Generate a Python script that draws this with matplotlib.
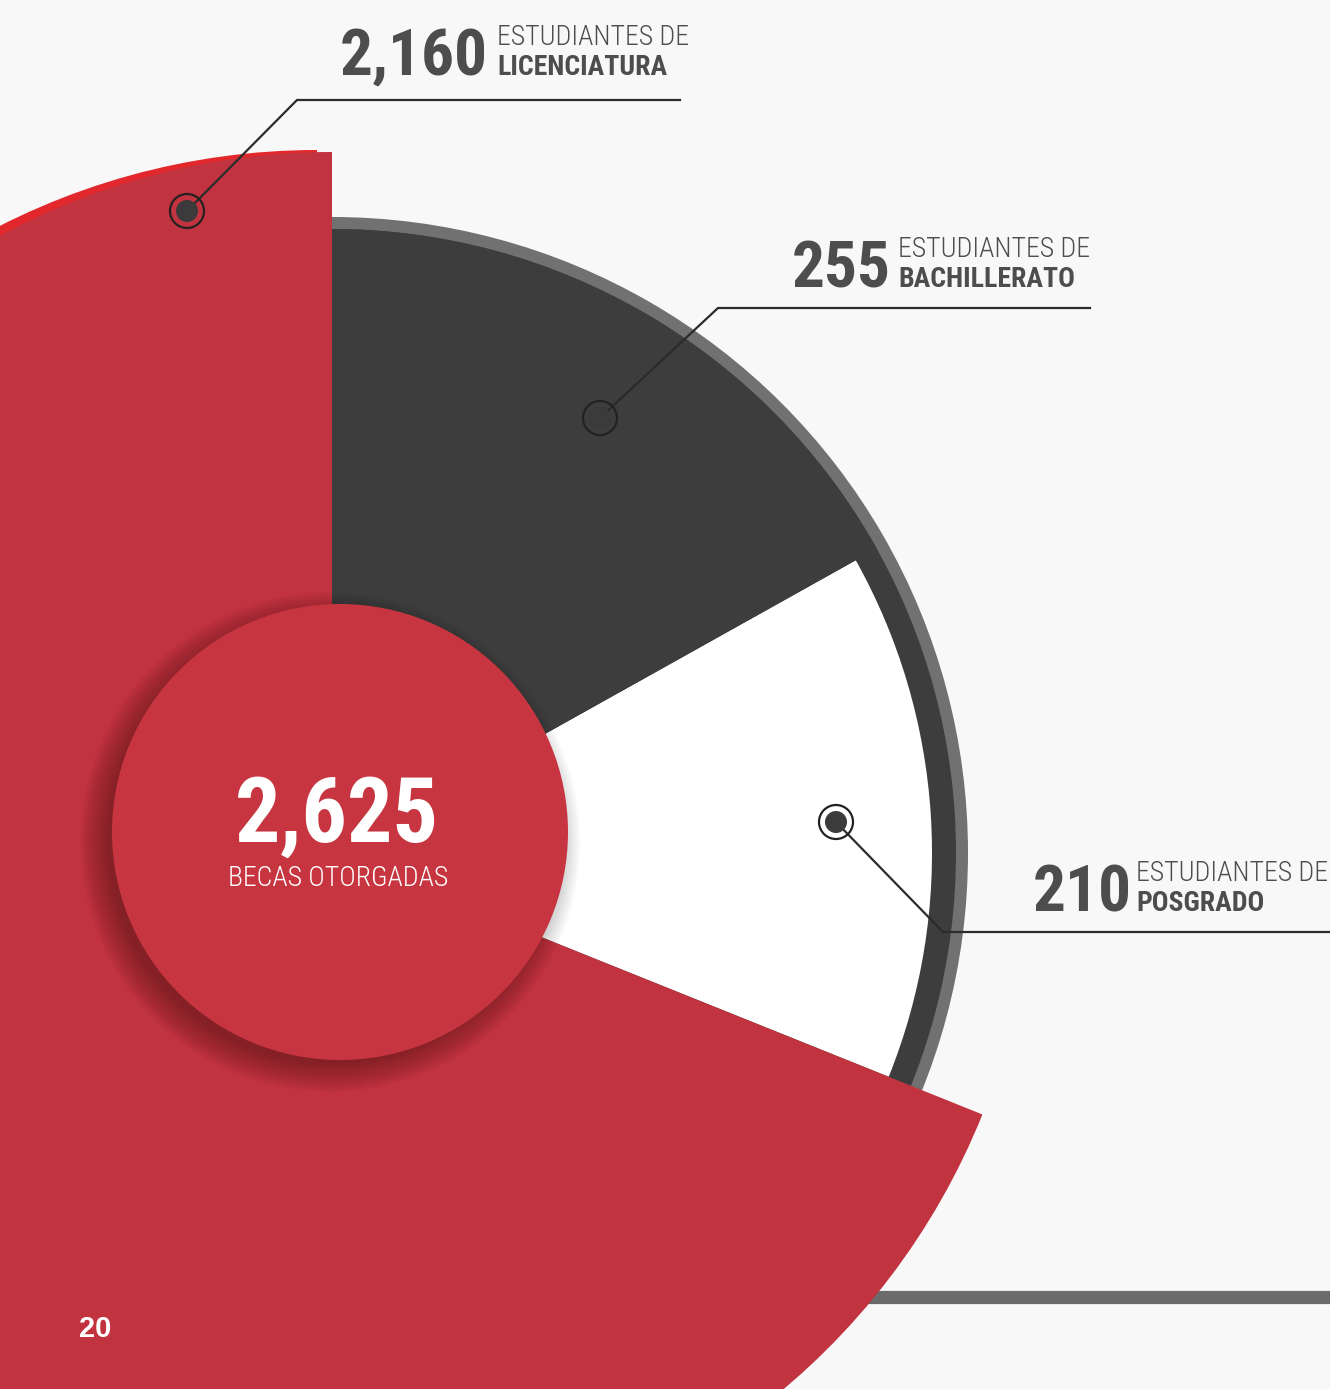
"""
Becas otorgadas - gráfica de pastel estilo infografía
"""
import matplotlib.pyplot as plt
from matplotlib.patches import Wedge, Circle

# datos
categorias = ['LICENCIATURA', 'POSGRADO', 'BACHILLERATO']
becas = [2160, 210, 255]
total_becas = 2625
# ángulo que ocupa cada rebanada en el dibujo original (grados)
angulos_dibujo = [248.1, 51.1, 60.8]
colores = ['#c1333f', '#ffffff', '#3d3d3d']

W, H = 1330, 1389
BG = '#f8f8f8'
TXT = '#4d4d4d'

COND = ['Roboto Condensed', 'Liberation Sans Narrow', 'DejaVu Sans']


def Y(py):
    return H - py


fig = plt.figure(figsize=(W / 100, H / 100), dpi=100, facecolor=BG)
ax = fig.add_axes([0, 0, 1, 1])
ax.set_facecolor(BG)

cx, cy = 332, Y(853)

# borde gris y anillo oscuro detrás
ax.add_patch(Wedge((cx, cy), 636, -30, 90, color='#717171', lw=0, zorder=1))
ax.add_patch(Wedge((cx, cy), 624, -30, 90, color='#3d3d3d', lw=0, zorder=1.1))

wedges, _ = ax.pie(angulos_dibujo, colors=colores, startangle=90, counterclock=True,
                   center=(cx, cy), radius=1, frame=True,
                   wedgeprops=dict(linewidth=0))
radios = [701, 600, 624]
for w, r in zip(wedges, radios):
    w.set_radius(r)
    w.set_zorder(2)
wedges[0].set_zorder(3)

# borde rojo brillante (efecto de relieve)
ax.add_patch(Wedge((cx - 15, cy + 2), 701, 90, 90 + angulos_dibujo[0],
                   color='#e2282c', lw=0, zorder=2.6))

# línea gris gruesa inferior
ax.plot([850, W], [Y(1297), Y(1297)], color='#6b6b6b', lw=9.5,
        solid_capstyle='butt', zorder=2.4)

# sombra del círculo central
ccx, ccy, cr = 340, Y(832), 228
for k in range(14):
    ax.add_patch(Circle((ccx - 10, ccy - 10), cr + 22 - k * 2.2, color='#000000',
                        alpha=0.025, lw=0, zorder=3.5))
ax.add_patch(Circle((ccx, ccy), cr, color='#c73640', lw=0, zorder=4))

# texto central
ax.text(337, Y(842), f'{total_becas:,}', color='white', fontsize=64 / 0.711 / 1.389,
        fontweight='bold', family=COND, ha='center', va='baseline', zorder=5)
ax.text(338, Y(886), 'BECAS OTORGADAS', color='white', fontsize=20,
        fontweight='light', family=COND, ha='center', va='baseline', zorder=5)

ax.text(79, Y(1337), '20', color='white', fontsize=21, fontweight='bold',
        family=['Liberation Sans', 'DejaVu Sans'], ha='left', va='baseline', zorder=5)

# etiquetas con líneas guía
etiquetas = [
    # marcador, codo, fin de línea, x número, x texto, baseline, categoría, valor
    ((187, 211), (297, 100), 680, 340, 497, 75, categorias[0], becas[0]),
    ((600, 418), (718, 308), 1090, 792, 898, 287, categorias[2], becas[2]),
    ((836, 822), (943, 932), W, 1033, 1136, 911, categorias[1], becas[1]),
]
for (mx, my), (kx, ky), fin, nx, tx, nb, cat, val in etiquetas:
    ax.plot([mx, kx, fin], [Y(my), Y(ky), Y(ky)], color='#2b2b2b', lw=1.6,
            solid_joinstyle='miter', zorder=6)
    ax.add_patch(Circle((mx, Y(my)), 17, facecolor='none', edgecolor='#222222',
                        lw=1.6, zorder=6))
    ax.add_patch(Circle((mx, Y(my)), 11, color='#3b3b3b', lw=0, zorder=6.1))
    ax.text(nx, Y(nb), f'{val:,}', color=TXT, fontsize=47,
            fontweight='bold', family=COND, ha='left', va='baseline', zorder=5)
    ax.text(tx, Y(nb - 30), 'ESTUDIANTES DE', color=TXT, fontsize=20,
            fontweight='light', family=COND, ha='left', va='baseline', zorder=5)
    ax.text(tx, Y(nb), cat, color=TXT, fontsize=20, fontweight='bold',
            family=COND, ha='left', va='baseline', zorder=5)

ax.set_xlim(0, W)
ax.set_ylim(0, H)
ax.set_aspect('auto')
ax.axis('off')

fig.savefig('out.png', dpi=100, facecolor=BG)
plt.close(fig)
